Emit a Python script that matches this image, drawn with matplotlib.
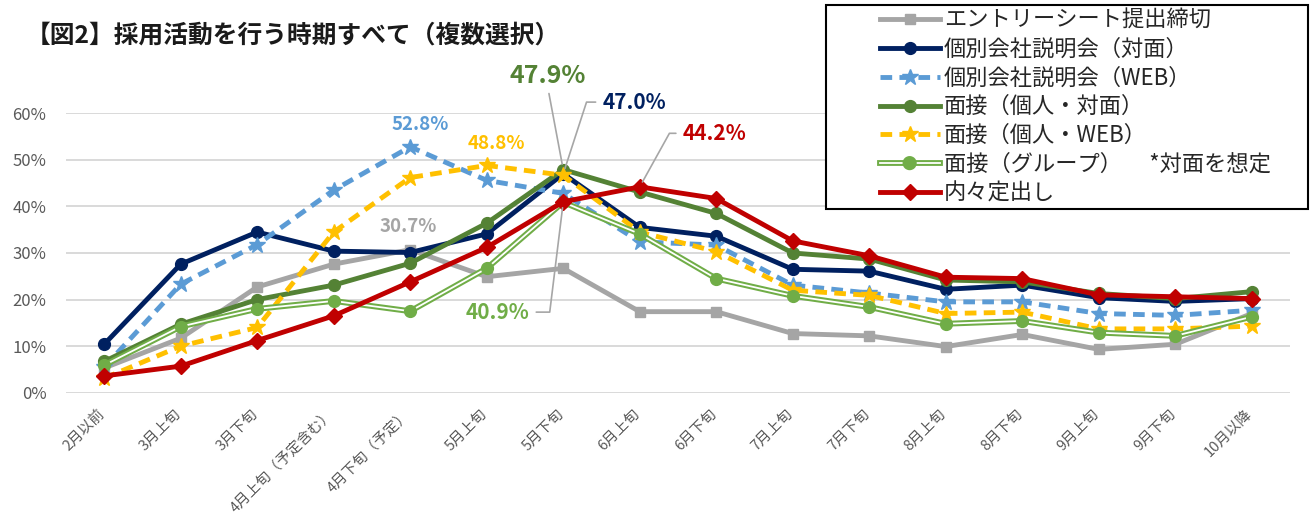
import matplotlib
matplotlib.use("Agg")
import matplotlib.pyplot as plt
import matplotlib.patheffects as pe
from matplotlib.lines import Line2D
from matplotlib.patches import Rectangle
from matplotlib.transforms import ScaledTranslation

plt.rcParams['font.family'] = ['Noto Sans CJK JP', 'DejaVu Sans']

# categories (x axis)
periods = ['2月以前', '3月上旬', '3月下旬', '4月上旬（予定含む）', '4月下旬（予定）',
           '5月上旬', '5月下旬', '6月上旬', '6月下旬', '7月上旬', '7月下旬',
           '8月上旬', '8月下旬', '9月上旬', '9月下旬', '10月以降']

# series values (%)
entry_sheet = [5.3, 11.7, 22.7, 27.6, 30.7, 24.9, 26.7, 17.4, 17.4, 12.7, 12.2, 9.9, 12.5, 9.3, 10.4, 17.0]
briefing_face = [10.4, 27.6, 34.5, 30.4, 30.1, 34.1, 47.0, 35.5, 33.6, 26.5, 26.1, 22.2, 23.1, 20.4, 19.6, 20.2]
briefing_web = [5.5, 23.3, 31.8, 43.5, 52.8, 45.6, 42.8, 32.4, 31.7, 23.1, 21.4, 19.5, 19.5, 17.0, 16.6, 17.7]
interview_face = [6.7, 14.7, 20.0, 23.1, 27.8, 36.4, 47.9, 43.1, 38.5, 30.0, 28.7, 24.2, 23.8, 21.3, 20.2, 21.7]
interview_web = [3.1, 10.0, 14.0, 34.5, 46.2, 48.8, 46.7, 34.5, 30.3, 22.0, 20.9, 17.0, 17.3, 13.7, 13.7, 14.3]
interview_group = [5.9, 14.2, 18.0, 19.7, 17.5, 26.7, 40.9, 34.1, 24.5, 20.8, 18.4, 14.8, 15.4, 12.9, 12.2, 16.3]
naitei = [3.6, 5.7, 11.2, 16.5, 23.8, 31.2, 41.0, 44.2, 41.7, 32.6, 29.4, 24.8, 24.5, 21.0, 20.6, 20.2]

labels = ['エントリーシート提出締切', '個別会社説明会（対面）', '個別会社説明会（WEB）',
          '面接（個人・対面）', '面接（個人・WEB）', '面接（グループ）　 *対面を想定', '内々定出し']

GRAY = '#a5a5a5'
NAVY = '#002060'
LBLUE = '#5b9bd5'
DGREEN = '#548235'
YELLOW = '#ffc000'
LGREEN = '#70ad47'
RED = '#c00000'

fig = plt.figure(figsize=(13.11, 5.24), dpi=100)
ax = fig.add_axes([0.0503, 0.2506, 0.9337, 0.5332])
x = list(range(len(periods)))

lw = 3.5
handles = []

def add(vals, color, marker, ms, ls='-', dashes=None):
    kw = dict(color=color, lw=lw, marker=marker, markersize=ms,
              markerfacecolor=color, markeredgecolor=color)
    if dashes:
        kw['dashes'] = dashes
    ln, = ax.plot(x, vals, ls, **kw)
    handles.append(ln)

add(entry_sheet, GRAY, 's', 7)
add(briefing_face, NAVY, 'o', 8.5)
add(briefing_web, LBLUE, '*', 12, '--', (2.4, 1.5))
add(interview_face, DGREEN, 'o', 8.5)
add(interview_web, YELLOW, '*', 12, '--', (2.4, 1.5))

# group interview: double line
dbl = [pe.Stroke(linewidth=4.2, foreground=LGREEN), pe.Normal()]
ax.plot(x, interview_group, '-', color='white', lw=1.3, path_effects=dbl)
ax.plot(x, interview_group, 'o', color=LGREEN, markersize=8.5)
handles.append(Line2D([], [], color='white', lw=1.3, path_effects=dbl,
                      marker='o', markersize=6, markerfacecolor=LGREEN, markeredgecolor=LGREEN))

add(naitei, RED, 'D', 8)

ax.set_xlim(-0.5, len(periods) - 0.5)
ax.set_ylim(0, 60)
ax.set_yticks(range(0, 61, 10))
ax.set_yticklabels([f'{v}%' for v in range(0, 61, 10)])
ax.set_xticks(x)
ax.set_xticklabels(periods, rotation=45, ha='right', va='top')
ax.grid(axis='y', color='#d9d9d9', lw=1.4)
ax.set_axisbelow(True)
for s in ax.spines.values():
    s.set_visible(False)
ax.tick_params(axis='both', length=0, colors='#595959')
ax.tick_params(axis='y', labelsize=12, pad=14)
ax.tick_params(axis='x', labelsize=10.5, pad=0)
off = ScaledTranslation(3 / 100, -14 / 100, fig.dpi_scale_trans)
for t in ax.get_xticklabels():
    t.set_transform(t.get_transform() + off)

# value labels
ax.text(4.13, 57.5, '52.8%', color=LBLUE, fontsize=13.5, ha='center', va='center', fontweight='bold')
ax.text(3.97, 35.7, '30.7%', color=GRAY, fontsize=13.5, ha='center', va='center', fontweight='bold')
ax.text(5.13, 53.6, '48.8%', color=YELLOW, fontsize=13.5, ha='center', va='center', fontweight='bold')

def leader(angle_b, rel):
    return dict(arrowstyle='-', color='#a6a6a6', lw=1.2, shrinkA=3, shrinkB=4, relpos=rel,
                connectionstyle=f'angle,angleA=0,angleB={angle_b},rad=0')

ax.annotate('47.9%', xy=(6, interview_face[6]), xytext=(5.80, 68), color=DGREEN,
            fontsize=18, fontweight='bold', ha='center', va='center',
            arrowprops=dict(arrowstyle='-', color='#a6a6a6', lw=1.2, shrinkA=2, shrinkB=4,
                            relpos=(0.5, 0)),
            annotation_clip=False)
ax.annotate('47.0%', xy=(6, briefing_face[6]), xytext=(6.93, 62.4), color=NAVY,
            fontsize=15, fontweight='bold', ha='center', va='center',
            arrowprops=leader(72, (0, 0.5)), annotation_clip=False)
ax.annotate('44.2%', xy=(7, naitei[7]), xytext=(7.98, 55.7), color=RED,
            fontsize=15, fontweight='bold', ha='center', va='center',
            arrowprops=leader(61, (0, 0.5)), annotation_clip=False)
ax.annotate('40.9%', xy=(6, interview_group[6]), xytext=(5.14, 17.3), color=LGREEN,
            fontsize=15, fontweight='bold', ha='center', va='center',
            arrowprops=leader(83, (1, 0.5)), annotation_clip=False)

# title
fig.text(0.0198, 0.932, '【図2】採用活動を行う時期すべて（複数選択）', fontsize=17.8,
         fontweight='bold', ha='left', va='center', color='#1a1a1a')

# legend with square black frame
fig.patches.append(Rectangle((0.630, 0.601), 0.368, 0.389, transform=fig.transFigure,
                             facecolor='white', edgecolor='black', lw=1.5, zorder=5))
leg = fig.legend(handles, labels, loc='upper left', bbox_to_anchor=(0.6625, 1.004),
                 frameon=False, fontsize=16, handlelength=2.7, handletextpad=0.2,
                 labelspacing=0.26, borderpad=0.0, labelcolor='#262626')
leg.set_zorder(6)

fig.savefig('out.png', dpi=100)
